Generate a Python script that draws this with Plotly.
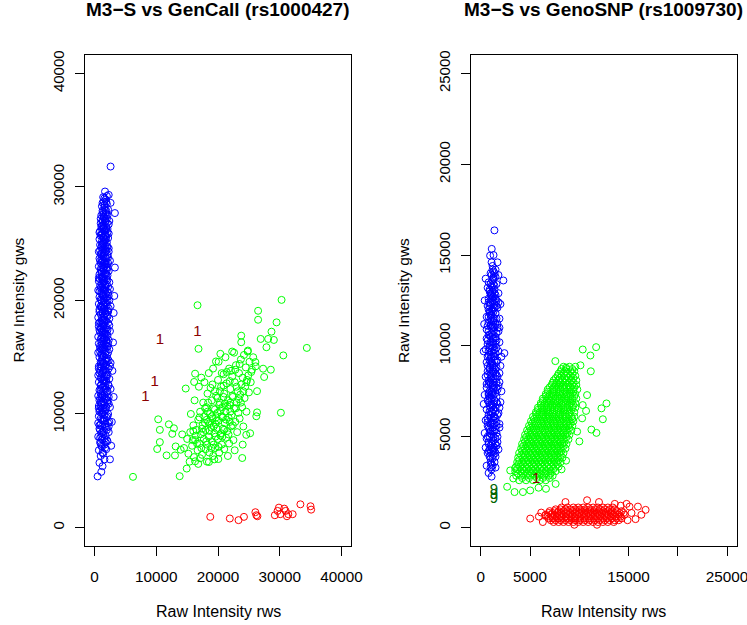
import plotly.graph_objects as go

FONT = "Liberation Sans, Arial, Helvetica, sans-serif"

L_TITLE = "M3−S vs GenCall (rs1000427)"
R_TITLE = "M3−S vs GenoSNP (rs1009730)"
X_LABEL = "Raw Intensity rws"
Y_LABEL = "Raw Intensity gws"

L_TICKS = [0, 10000, 20000, 30000, 40000]
L_TICKTEXT = ["0", "10000", "20000", "30000", "40000"]
R_TICKS = [0, 5000, 10000, 15000, 20000, 25000]
R_XTICKTEXT = ["0", "5000", "", "15000", "", "25000"]
R_YTICKTEXT = ["0", "5000", "10000", "15000", "20000", "25000"]
L_RANGE = [-1600, 41600]
R_RANGE = [-1000, 26000]

# ---------------- left panel (GenCall) ----------------
BLUE_L = [
    (500,4500),(1100,4900),(1300,5400),(800,5700),(1600,6000),(1000,6300),(1400,6500),(700,6800),(1900,6900),(1200,7100),
    (1600,7300),(900,7500),(2100,7600),(1300,7800),(600,8000),(1800,8100),(1100,8300),(2300,8400),(1500,8500),(800,8700),
    (2000,8800),(1200,8900),(1700,9100),(600,9200),(2400,9300),(1400,9400),(1000,9600),(1900,9700),(700,9800),(1600,9900),
    (2200,10000),(1200,10100),(900,10300),(1800,10400),(1400,10500),(2500,10600),(700,10700),(1600,10800),(1100,10900),(2100,11000),
    (1400,11100),(800,11200),(1900,11300),(1200,11400),(2300,11500),(600,11600),(1600,11700),(1000,11800),(2000,11900),(1400,12000),
    (800,12100),(2600,12200),(1200,12300),(1700,12400),(1000,12500),(2200,12600),(1500,12700),(700,12800),(1900,12900),(1300,13000),
    (2400,13100),(1000,13200),(1600,13300),(600,13400),(2100,13500),(1300,13600),(1800,13700),(900,13800),(1500,13900),(2300,14000),
    (1100,14100),(700,14200),(1900,14300),(1400,14400),(2600,14500),(1000,14600),(1700,14700),(1200,14800),(2100,14900),(800,15000),
    (1500,15100),(2000,15200),(1100,15300),(600,15400),(1800,15500),(1300,15600),(2400,15700),(900,15800),(1600,15900),(2000,16000),
    (1200,16100),(700,16200),(1900,16300),(1400,16400),(2300,16500),(1000,16600),(1700,16700),(600,16800),(2100,16900),(1300,17000),
    (1800,17100),(900,17200),(2500,17300),(1500,17400),(1100,17500),(2000,17600),(700,17700),(1600,17800),(1300,17900),(2200,18000),
    (900,18100),(1700,18200),(1200,18300),(2400,18400),(600,18500),(1500,18600),(2000,18700),(1000,18800),(1800,18900),(1300,19000),
    (2200,19100),(800,19200),(1600,19300),(1100,19400),(2600,19500),(1400,19600),(700,19700),(1900,19800),(1200,19900),(2100,20000),
    (1000,20100),(1600,20200),(800,20300),(2300,20400),(1400,20500),(1800,20600),(1100,20700),(2000,20800),(600,20900),(1500,21000),
    (1300,21100),(2200,21200),(900,21300),(1700,21400),(1200,21500),(2400,21600),(700,21700),(1600,21800),(1900,21900),(1100,22000),
    (1400,22100),(2100,22200),(800,22300),(1700,22400),(1200,22500),(2300,22600),(1000,22700),(1500,22800),(1900,22900),(700,23000),
    (1300,23100),(2000,23200),(1000,23300),(1600,23400),(2500,23500),(1200,23600),(800,23700),(1800,23800),(1400,23900),(2100,24000),
    (1000,24100),(1600,24200),(700,24300),(1900,24400),(1300,24500),(2300,24600),(1100,24700),(1700,24800),(900,24900),(1500,25000),
    (2000,25100),(1200,25200),(1700,25300),(800,25400),(2200,25500),(1400,25600),(1000,25700),(1800,25800),(1300,25900),(2100,26000),
    (900,26100),(1600,26200),(1200,26300),(1900,26400),(1400,26600),(2300,26700),(1000,26800),(1700,26900),(1300,27100),(2000,27200),
    (1500,27400),(1100,27500),(1800,27700),(1400,27800),(2200,28000),(1600,28200),(1200,28300),(2000,28500),(1500,28700),(2600,28600),
    (1800,28900),(1400,29100),(2300,29300),(1700,29600),(2600,31800),(3300,27700),(3300,22900),(3200,20400),(3100,18900),(3000,16300),
    (2900,13800),(3100,11500),(2800,9300),(2700,7200),(2500,6000),(700,10500),(700,14000),(700,18000),(700,22000),(800,26000),
]
BLUE_L_FILL = [
    (1300,6600),(1700,7000),(1000,7400),(2000,7700),(1400,8200),(900,8600),(1700,8900),(2200,9200),(1200,9500),(1500,10200),
    (1900,10600),(1000,11000),(1700,11300),(1200,11700),(2100,12000),(1400,12400),(1800,12700),(1100,13100),(1900,13400),(1400,13800),
    (1700,14200),(1000,14400),(2000,14600),(1300,15000),(1700,15300),(1100,15700),(2100,15900),(1500,16200),(1900,16500),(1200,16800),
    (1600,17100),(2100,17400),(1000,17600),(1500,17900),(1900,18200),(1200,18500),(1700,18800),(2200,19000),(1400,19200),(1000,19500),
    (1800,19700),(1500,20000),(2000,20300),(1200,20600),(1700,20900),(1100,21200),(2000,21400),(1500,21700),(1300,22000),(1900,22300),
    (1500,22600),(1100,22900),(1800,23200),(1400,23500),(2200,23800),(1200,24200),(1700,24500),(2000,24800),(1300,25000),(1800,25400),
    (1100,25800),(1600,26100),(2100,26300),(1200,26600),(1800,27000),(1500,27300),(1900,27600),(1300,27900),(1700,28000),(2400,27000),
    (2300,10900),(2500,14200),(2400,17800),(2500,21000),(2300,24300),(800,9000),(900,16000),(800,19000),(900,23500),(1000,27200),
    (1600,7800),(1100,8000),(1500,9600),(1200,10500),(1600,11500),(1000,12100),(1500,13000),(1300,14600),(1600,16600),(1400,17200),
    (1300,18200),(1600,19300),(1400,20400),(1700,21100),(1300,21900),(1600,23000),(1500,24100),(1400,25100),(1700,25700),(1400,26400),
    (1100,7200),(1800,7500),(1300,8400),(2000,8600),(1000,9100),(1600,9400),(2100,9800),(1300,10000),(1700,10300),(1000,10600),
    (1500,11000),(2100,11200),(1300,11600),(1800,12200),(1100,12600),(1600,12900),(2000,13300),(1200,13500),(1700,13900),(1000,14200),
    (1500,14500),(1900,14800),(1200,15200),(1600,15600),(2200,15400),(1300,15900),(1800,16100),(1100,16400),(1500,16700),(2000,17000),
    (1200,17300),(1800,17500),(1400,17700),(1100,18000),(1600,18300),(2100,18600),(1300,18900),(1700,19100),(1200,19400),(2000,19600),
    (1600,19800),(1100,20000),(1800,20200),(1300,20500),(2200,20700),(1500,20900),(1000,21100),(1800,21300),(1400,21600),(2100,21800),
    (1200,22100),(1700,22300),(1100,22500),(2000,22700),(1400,22900),(1700,23300),(1200,23400),(1900,23700),(1500,23800),(1100,24000),
    (1800,24300),(1400,24600),(2100,24700),(1200,24900),(1600,25200),(1900,25600),(1500,25500),(1200,25900),(1800,26200),(1500,26500),
    (2000,26800),(1300,26900),(1700,27200),(1400,27600),(1900,27900),(1600,28400),(1300,28600),(1900,28700),(1600,29000),(2000,29200),
    (900,7900),(2300,8900),(800,10200),(2300,12500),(800,13600),(2200,16200),(800,17400),(2300,19300),(800,20800),(2100,22900),
    (900,24400),(2300,25900),(1100,26500),(2100,27500),(900,11400),(2300,14700),(900,15500),(2200,23300),(800,21900),(2400,20000),
]

GREEN_L = [
    (14500,7000),(15000,7800),(15200,6500),(15500,8400),(15800,7200),(16000,9000),(16100,6200),(16300,7700),(16500,8600),(16700,6800),
    (16800,9500),(17000,7400),(17100,10200),(17200,8200),(17400,6400),(17500,9000),(17600,11000),(17700,7800),(17800,9800),(18000,6900),
    (18000,8600),(18100,10600),(18200,7300),(18300,11800),(18400,9300),(18500,8000),(18600,6600),(18700,10000),(18800,12300),(18900,8800),
    (19000,7600),(19000,11200),(19100,9600),(19200,6300),(19300,10500),(19400,8300),(19500,12000),(19500,7000),(19600,9100),(19700,11600),
    (19800,8700),(19900,10100),(20000,7800),(20000,13000),(20100,9400),(20200,6600),(20300,11000),(20400,8100),(20500,12400),(20600,9800),
    (20600,7300),(20700,10600),(20800,8700),(20900,13500),(21000,11800),(21000,6900),(21100,9200),(21200,10200),(21300,7900),(21400,12700),
    (21500,8500),(21600,11200),(21700,9700),(21800,14000),(21800,7400),(21900,10800),(22000,12200),(22100,8900),(22200,9900),(22300,13300),
    (22400,11500),(22500,7700),(22600,10500),(22700,12800),(22800,9300),(22900,14300),(23000,11000),(23100,8400),(23200,12000),(23300,10100),
    (23400,13600),(23500,9600),(23600,11700),(23700,14800),(23800,12600),(23900,10600),(24000,13200),(24100,8900),(24200,15200),(24300,11400),
    (24400,12400),(24500,14100),(24600,10200),(24700,13000),(24800,15500),(25000,11900),(25100,14600),(25300,12800),(25500,13900),(25700,15000),
    (15600,10000),(16200,11200),(16900,12400),(17300,13200),(17800,12800),(18500,13600),(19200,14000),(20100,14600),(21200,15000),(22600,15400),
    (14200,8200),(15400,5800),(16800,5600),(18200,5800),(19400,6000),(21600,6300),(22700,6800),(24000,7300),(25200,8300),(26200,9800),
    (17900,10500),(18700,9200),(19500,10400),(20200,10800),(20800,9700),(21500,10700),(22300,11600),(23000,12400),(19300,8900),(20500,8300),
    (18200,9500),(19700,9700),(21000,8600),(22000,10200),(17400,8700),(16600,7400),(20900,11500),(21900,12900),(23700,11000),(24600,12800),
    (15900,7700),(17100,6100),(18900,7000),(19900,11400),(20300,12000),(21400,13700),(22800,13900),(23500,14400),(24900,13400),(26100,14200),
    (17600,8400),(18100,7600),(18600,8500),(19000,9800),(19300,7300),(19800,9400),(20100,7100),(20400,10300),(20700,8000),(21100,10900),
    (21300,9500),(21700,8200),(22000,11000),(22400,9000),(22900,10500),(18300,10200),(17900,9200),(19600,8000),(20900,12500),(21900,9300),
    (16400,8100),(17000,9700),(18400,11000),(19100,12600),(23400,11300),(24100,12000),(22100,13800),(20600,13600),(17300,7000),(16000,8500),
]
GREEN_L_OUT = [
    (30290,20050),(16680,19580),(26490,19090),(26490,18300),(29480,18070),(28660,17250),(23760,16900),(34380,15820),(30570,15160),(16840,15740),
    (30180,10110),(16290,13550),(14770,12240),(10310,9530),(10580,8600),(10580,7520),(10150,6910),(11670,6350),(13790,4520),(14930,5190),
    (6230,4460),(16290,5830),(18530,5770),(20050,6030),(23920,6120),(24575,8160),(26320,10140),(26320,12010),(28550,13900),(27300,13990),
    (27470,13260),(25390,13700),(26050,14570),(27840,15880),(26910,16610),(28120,16610),(29040,16520),(23760,16320),(24850,15590),(22290,15500),
    (20380,15300),(19670,14630),(16130,12820),(12040,9090),(12860,8740),(12590,8250),(13140,7140),(13030,6350),(13950,6850),
]

RED_L = [
    (18745,935),(21910,790),(23320,645),(24200,935),(26050,1345),(26210,1080),(26380,990),(29200,1080),(29640,1460),(29860,1750),
    (30080,1170),(30730,1660),(30950,1460),(31160,990),(31380,1170),(32090,1170),(33340,2040),(34980,1870),(35080,1570),
]

ONES_L = [(10580,16520),(16680,17190),(9760,12820),(8240,11450)]

# ---------------- right panel (GenoSNP) ----------------
BLUE_R = [
    (800,3000),(1100,3200),(1400,3600),(600,3400),(1000,3800),(1500,3900),(700,4100),(1200,4200),(1800,4300),(500,4400),
    (1000,4500),(1500,4600),(800,4700),(1300,4800),(600,4900),(1700,5000),(1100,5100),(400,5200),(1400,5300),(900,5400),
    (1900,5500),(700,5600),(1200,5700),(1600,5800),(500,5900),(1000,6000),(1400,6100),(800,6200),(1800,6300),(1100,6400),
    (600,6500),(1500,6600),(900,6700),(1300,6800),(2000,6900),(700,7000),(1100,7100),(1600,7200),(400,7300),(1200,7400),
    (900,7500),(1700,7600),(600,7700),(1400,7800),(1000,7900),(1900,8000),(800,8100),(1300,8200),(500,8300),(1600,8400),
    (1100,8500),(700,8600),(1500,8700),(900,8800),(2000,8900),(1200,9000),(600,9100),(1700,9200),(1000,9300),(1400,9400),
    (800,9500),(2400,9600),(1100,9700),(500,9800),(1600,9900),(900,10000),(1300,10100),(1900,10200),(700,10300),(1200,10400),
    (1500,10500),(800,10600),(1100,10700),(1800,10800),(600,10900),(1400,11000),(1000,11100),(1700,11200),(800,11300),(1300,11400),
    (1900,11500),(600,11600),(1100,11700),(1500,11800),(900,11900),(1200,12000),(1700,12100),(700,12200),(1400,12300),(1000,12400),
    (1600,12500),(800,12600),(1300,12700),(1100,12800),(1800,12900),(900,13000),(1400,13100),(1100,13300),(2300,13600),(1300,13800),
    (1000,14000),(1500,14200),(1200,14400),(950,14970),(1115,15340),(1390,16360),(1700,14600),(800,13500),(1600,13400),(1200,13200),
    (1300,4000),(900,4300),(1200,4700),(1600,5200),(800,5500),(1300,5900),(1700,6200),(1000,6600),(1400,7000),(800,7300),
    (1300,7600),(1800,7800),(1100,8100),(700,8400),(1300,8800),(1600,9100),(1000,9500),(1400,9800),(700,10100),(1600,10300),
    (1200,10600),(1500,11200),(1000,11500),(1300,11900),(1600,12200),(1100,12600),(1400,12900),(700,13200),(1900,11000),(2100,9400),
    (2100,7500),(1900,5700),(2000,12300),(300,6800),(300,9700),(350,11200),(400,12500),(500,13700),(1800,13900),(1200,3400),
    (1000,4100),(1400,4400),(1100,5800),(1200,6300),(900,7100),(1000,8200),(1200,8600),(900,9200),(1100,10000),(1000,10500),
    (1200,11100),(900,11800),(1000,12300),(1200,13600),(1300,12500),(1500,7400),(1500,5400),(1100,4400),(1600,8000),(1500,9600),
]
BLUE_R_FILL = [
    (1000,3600),(1300,4300),(800,4600),(1500,4900),(1000,5300),(1200,5500),(700,5800),(1500,6000),(1000,6200),(1300,6500),
    (800,6900),(1600,6900),(1100,7300),(1300,7700),(800,7900),(1500,8200),(1000,8400),(1300,8600),(700,8900),(1600,8800),
    (1100,9100),(1300,9400),(800,9700),(1500,10100),(1000,10200),(1300,10400),(800,10800),(1600,10700),(1100,11000),(1300,11300),
    (800,11600),(1600,11500),(1100,11900),(1400,12100),(800,12400),(1200,12700),(1500,12800),(900,13100),(1300,13400),(1100,13900),
    (1500,4100),(1700,4700),(700,5000),(1900,6600),(600,7900),(1900,8500),(600,10400),(1800,9700),(700,11100),(1800,12400),
    (1200,3800),(900,5000),(1400,5700),(1100,6800),(1200,7800),(1000,9000),(1200,9900),(1100,11400),(1000,12800),(1300,14100),
    (1100,3500),(900,3900),(1400,4200),(1100,4600),(1300,5000),(900,5200),(1200,5300),(1600,5600),(1000,5700),(1300,6100),
    (900,6400),(1500,6400),(1200,6700),(900,7200),(1300,7300),(1100,7500),(1600,7700),(900,8000),(1300,8000),(1100,8300),
    (1500,8500),(900,8700),(1200,8900),(1400,9200),(1100,9400),(1300,9600),(900,9900),(1200,10200),(1500,10400),(900,10600),
    (1300,10800),(1100,11200),(1400,11500),(1000,11700),(1300,12100),(900,12200),(1200,12400),(1500,12600),(1000,12900),(1200,13000),
    (1400,13300),(1000,13400),(1300,13700),(1200,14200),(1400,14000),(1100,14600),(1300,15000),(1500,13800),(800,12000),(1700,11000),
    (700,9400),(1700,8300),(800,7400),(1700,6800),(700,6000),(1600,4500),(800,4200),(1000,3300),(1500,3300),(1100,2800),
]

# dense green cloud, one row per gws level: (gws, [rws values])
GREEN_R_ROWS = [
    (2600, [3900, 4600, 5300, 6000, 6600]),
    (2725, [4200, 4900, 5700, 6300, 7000]),
    (2850, [3600, 4100, 4600, 5000, 5500, 5900, 6400, 6900, 7300]),
    (2975, [3800, 4300, 4800, 5200, 5700, 6100, 6600, 7100]),
    (3100, [3500, 4000, 4400, 4900, 5300, 5700, 6200, 6600, 7100, 7600]),
    (3225, [3700, 4200, 4600, 5100, 5500, 6000, 6400, 6900, 7400]),
    (3350, [3600, 4000, 4500, 4900, 5400, 5800, 6200, 6700, 7100, 7600, 7900]),
    (3475, [3800, 4300, 4700, 5200, 5600, 6000, 6500, 6900, 7400, 7800]),
    (3600, [3700, 4200, 4600, 5000, 5500, 5900, 6300, 6800, 7200, 7700, 8100]),
    (3725, [3900, 4400, 4800, 5300, 5700, 6100, 6600, 7000, 7500, 7900]),
    (3850, [3800, 4300, 4700, 5200, 5600, 6000, 6500, 6900, 7400, 7800, 8300]),
    (3975, [4100, 4500, 5000, 5400, 5800, 6300, 6700, 7200, 7600, 8100]),
    (4100, [3900, 4400, 4900, 5300, 5700, 6200, 6600, 7100, 7500, 8000, 8400]),
    (4225, [4200, 4600, 5100, 5500, 6000, 6400, 6900, 7300, 7800, 8200]),
    (4350, [4100, 4500, 5000, 5400, 5900, 6300, 6800, 7200, 7700, 8100, 8600]),
    (4475, [4300, 4800, 5200, 5700, 6100, 6600, 7000, 7500, 7900, 8400]),
    (4600, [4200, 4700, 5100, 5600, 6000, 6500, 6900, 7400, 7800, 8300, 8700]),
    (4725, [4500, 4900, 5400, 5800, 6300, 6700, 7200, 7600, 8100, 8500]),
    (4850, [4400, 4800, 5300, 5700, 6200, 6600, 7100, 7500, 8000, 8400, 8900]),
    (4975, [4600, 5100, 5500, 6000, 6400, 6900, 7300, 7800, 8200, 8700]),
    (5100, [4500, 5000, 5400, 5900, 6300, 6800, 7200, 7700, 8100, 8600, 9000]),
    (5225, [4800, 5200, 5700, 6100, 6600, 7000, 7500, 7900, 8400, 8800]),
    (5350, [4700, 5100, 5600, 6000, 6500, 6900, 7400, 7800, 8300, 8700, 9200]),
    (5475, [5000, 5400, 5900, 6300, 6800, 7200, 7600, 8100, 8500, 9000]),
    (5600, [4900, 5300, 5800, 6200, 6700, 7100, 7500, 8000, 8400, 8900, 9300]),
    (5725, [5200, 5600, 6100, 6500, 6900, 7400, 7800, 8200, 8700, 9100]),
    (5850, [5100, 5500, 6000, 6400, 6800, 7300, 7700, 8100, 8600, 9000, 9400]),
    (5975, [5400, 5800, 6300, 6700, 7100, 7600, 8000, 8400, 8900, 9300]),
    (6100, [5300, 5700, 6200, 6600, 7000, 7400, 7900, 8300, 8700, 9200, 9500]),
    (6225, [5600, 6000, 6400, 6900, 7300, 7700, 8100, 8600, 9000]),
    (6350, [5600, 6000, 6400, 6800, 7300, 7700, 8100, 8500, 9000, 9500]),
    (6475, [5800, 6300, 6700, 7100, 7500, 7900, 8400, 8800, 9200]),
    (6600, [5800, 6200, 6700, 7100, 7500, 7900, 8400, 8800, 9300, 9600]),
    (6725, [6100, 6500, 6900, 7300, 7700, 8200, 8600, 9000, 9400]),
    (6850, [6100, 6500, 6900, 7400, 7800, 8200, 8600, 9100, 9600]),
    (6975, [6300, 6700, 7100, 7600, 8000, 8400, 8800, 9300]),
    (7100, [6300, 6800, 7200, 7600, 8000, 8500, 8900, 9300, 9700]),
    (7225, [6600, 7000, 7400, 7800, 8200, 8700, 9100, 9500]),
    (7350, [6600, 7000, 7400, 7900, 8300, 8700, 9100, 9600]),
    (7475, [6800, 7300, 7700, 8100, 8600, 9000, 9400]),
    (7600, [6800, 7300, 7700, 8100, 8500, 9000, 9400, 9800]),
    (7725, [7000, 7500, 7900, 8300, 8700, 9100, 9500]),
    (7850, [7200, 7600, 8000, 8400, 8900, 9300, 9700]),
    (7975, [7300, 7700, 8100, 8600, 9000, 9400]),
    (8100, [7400, 7900, 8300, 8700, 9200, 9700]),
    (8225, [7600, 8000, 8500, 8900, 9400]),
    (8350, [7800, 8200, 8700, 9100, 9600]),
    (8475, [7900, 8400, 8800, 9300]),
    (8600, [8100, 8600, 9100, 9500]),
    (8725, [8200, 8700, 9300]),
    (8850, [8400, 9000, 9600]),
]
GREEN_R_OUT = [
    (11710,9930),(10350,9800),(11130,9470),(7570,9160),(8660,8800),(10120,8930),(11170,8600),(12760,6830),(12250,6560),(12390,5960),
    (11230,5390),(11740,5210),(10010,4740),(10790,7290),(10350,6740),(10690,6420),(2680,2240),(3430,1950),(4280,1950),(2990,3140),
    (3490,3280),(6620,2130),(5870,2190),(5020,2040),(8660,3680),(9780,5280),(10290,6010),(3300,2700),(7600,2400),(8200,3200),
]

# dense red cloud, one row per gws level: (gws, [rws values])
RED_R_ROWS = [
    (300, [7400, 7900, 8400, 8900, 9400, 9900, 10400, 10900, 11400, 11900, 12400, 12900, 13500]),
    (400, [7100, 7600, 8100, 8600, 9100, 9600, 10100, 10600, 11100, 11600, 12100, 12600, 13100, 13600, 14000]),
    (500, [6900, 7300, 7800, 8200, 8700, 9200, 9600, 10100, 10500, 11000, 11500, 11900, 12400, 12800, 13300, 13800, 14300]),
    (600, [6800, 7300, 7700, 8200, 8600, 9100, 9500, 10000, 10500, 10900, 11400, 11800, 12300, 12800, 13200, 13700, 14200]),
    (700, [6600, 7100, 7500, 8000, 8400, 8900, 9300, 9800, 10300, 10700, 11200, 11600, 12100, 12600, 13000, 13500, 14000, 14600]),
    (800, [6900, 7300, 7800, 8200, 8700, 9100, 9600, 10000, 10500, 10900, 11400, 11800, 12300, 12700, 13200, 13600, 14100, 14500]),
    (900, [7000, 7500, 7900, 8400, 8800, 9300, 9700, 10200, 10600, 11100, 11500, 12000, 12400, 12900, 13300, 13800, 14300]),
    (1000, [7600, 8100, 8600, 9100, 9600, 10100, 10600, 11100, 11600, 12100, 12600, 13100, 13600]),
    (1100, [8200, 8800, 9400, 9900, 10400, 10900, 11400, 11900, 12400, 12900, 13400]),
]
RED_R_OUT = [
    (5020,490),(6140,820),(6550,670),(16730,970),(15950,1150),(15100,1150),(15710,460),(10790,1500),(5900,600),(15300,800),
    (14800,1300),(16300,700),(14900,400),(8600,1400),(12000,1400),(13600,1300),(6300,300),(9500,150),(11800,150),(14200,1200),
]

ONES_R = [(5630, 2640)]
NINES_R = [(1330, 2040), (1330, 1790), (1330, 1530)]


def split(pairs):
    return [p[0] for p in pairs], [p[1] for p in pairs]


def expand(rows):
    pts = []
    for yv, xs in rows:
        pts.extend((xv, yv) for xv in xs)
    return pts


def pts_trace(pairs, color, xa, ya):
    xs, ys = split(pairs)
    return go.Scatter(
        x=xs, y=ys, xaxis=xa, yaxis=ya, mode="markers", hoverinfo="skip",
        marker=dict(symbol="circle-open", size=7, color=color, line=dict(width=1, color=color)),
        showlegend=False,
    )


def txt_trace(pairs, label, color, xa, ya):
    xs, ys = split(pairs)
    return go.Scatter(
        x=xs, y=ys, xaxis=xa, yaxis=ya, mode="text", text=[label] * len(xs),
        textposition="middle center", hoverinfo="skip",
        textfont=dict(family=FONT, size=15, color=color), showlegend=False,
    )


fig = go.Figure()
fig.add_trace(pts_trace(RED_L, "#FF0000", "x", "y"))
fig.add_trace(pts_trace(GREEN_L + GREEN_L_OUT, "#00FF00", "x", "y"))
fig.add_trace(pts_trace(BLUE_L + BLUE_L_FILL, "#0000FF", "x", "y"))
fig.add_trace(txt_trace(ONES_L, "1", "#8B0000", "x", "y"))

fig.add_trace(pts_trace(expand(RED_R_ROWS) + RED_R_OUT, "#FF0000", "x2", "y2"))
fig.add_trace(pts_trace(expand(GREEN_R_ROWS) + GREEN_R_OUT, "#00FF00", "x2", "y2"))
fig.add_trace(pts_trace(BLUE_R + BLUE_R_FILL, "#0000FF", "x2", "y2"))
fig.add_trace(txt_trace(ONES_R, "1", "#8B0000", "x2", "y2"))
fig.add_trace(txt_trace(NINES_R, "9", "#006400", "x2", "y2"))

# layout measured in the 747-px-wide picture; the page viewport is ~761 css px wide
W_REF, W, H = 747, 761, 625
LX = [84.3, 350.0]
RX = [469.0, 734.0]
YP = [50.7, 545.0]

axis_common = dict(
    showgrid=False, zeroline=False, showline=True, mirror=True, linecolor="black", linewidth=1,
    ticks="outside", ticklen=9, tickwidth=1, tickcolor="black", fixedrange=True,
)
xfont = dict(family=FONT, size=15.3, color="black")
yfont = dict(family=FONT, size=15, color="black")

fig.update_layout(
    width=W, height=H, margin=dict(l=0, r=0, t=0, b=0),
    paper_bgcolor="white", plot_bgcolor="white", showlegend=False,
    xaxis=dict(domain=[LX[0] / W_REF, LX[1] / W_REF], range=L_RANGE, tickvals=L_TICKS, ticktext=L_TICKTEXT,
               anchor="y", ticklabelstandoff=8, tickfont=xfont, **axis_common),
    yaxis=dict(domain=[1 - YP[1] / H, 1 - YP[0] / H], range=L_RANGE, tickvals=L_TICKS, ticktext=L_TICKTEXT,
               anchor="x", tickangle=-90, ticklabelstandoff=5, tickfont=yfont, **axis_common),
    xaxis2=dict(domain=[RX[0] / W_REF, RX[1] / W_REF], range=R_RANGE, tickvals=R_TICKS, ticktext=R_XTICKTEXT,
                anchor="y2", ticklabelstandoff=8, tickfont=xfont, **axis_common),
    yaxis2=dict(domain=[1 - YP[1] / H, 1 - YP[0] / H], range=R_RANGE, tickvals=R_TICKS, ticktext=R_YTICKTEXT,
                anchor="x2", tickangle=-90, ticklabelstandoff=5, tickfont=yfont, **axis_common),
)

ann = []
for cx, title in [((LX[0] + LX[1]) / 2, L_TITLE), ((RX[0] + RX[1]) / 2, R_TITLE)]:
    ann.append(dict(x=cx / W_REF, y=1 - 5 / H, xref="paper", yref="paper", text="<b>" + title + "</b>",
                    showarrow=False, xanchor="center", yanchor="middle",
                    font=dict(family=FONT, size=19, color="black")))
    ann.append(dict(x=cx / W_REF, y=1 - 611 / H, xref="paper", yref="paper", text=X_LABEL,
                    showarrow=False, xanchor="center", yanchor="middle",
                    font=dict(family=FONT, size=16, color="black")))
for cx in [18, 402]:
    ann.append(dict(x=cx / W_REF, y=1 - ((YP[0] + YP[1]) / 2) / H, xref="paper", yref="paper", text=Y_LABEL,
                    showarrow=False, xanchor="center", yanchor="middle", textangle=-90,
                    font=dict(family=FONT, size=15.5, color="black")))
fig.update_layout(annotations=ann)

fig.write_html(
    "out.html",
    config={"displayModeBar": False},
    post_script="document.body.style.margin='0';document.body.style.overflow='hidden';",
)
